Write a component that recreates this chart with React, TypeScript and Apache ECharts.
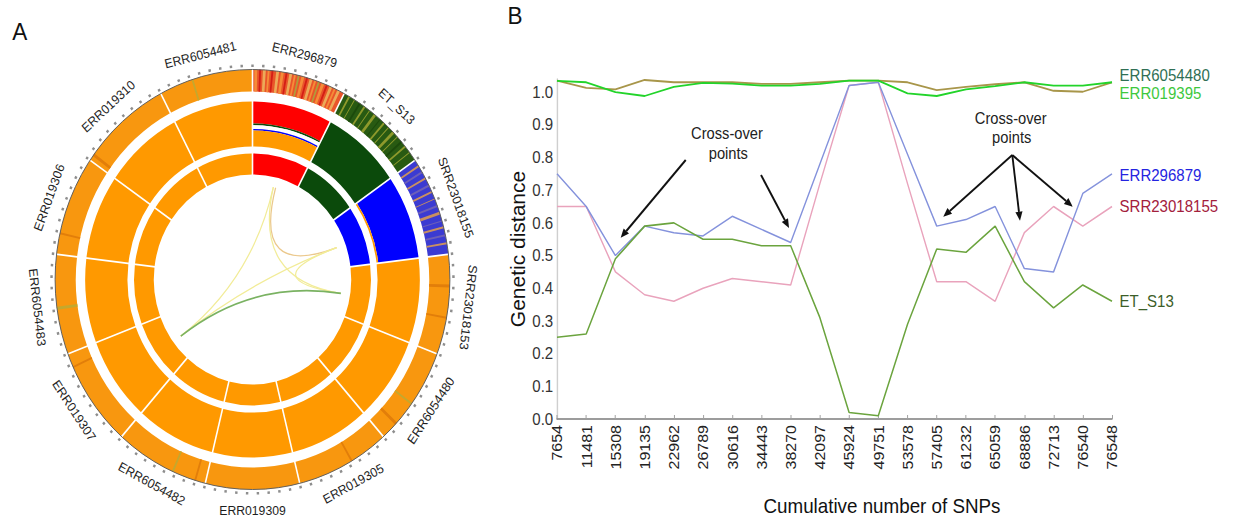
import React, { useEffect, useRef } from "react";
import * as echarts from "echarts";

// ---------------- Panel B data ----------------
const snpTicks = ["7654", "11481", "15308", "19135", "22962", "26789", "30616", "34443", "38270", "42097", "45924", "49751", "53578", "57405", "61232", "65059", "68886", "72713", "76540", "76548"];
const err6054480 = [1.035, 1.013, 1.008, 1.037, 1.03, 1.03, 1.03, 1.025, 1.025, 1.03, 1.035, 1.035, 1.03, 1.006, 1.016, 1.024, 1.03, 1.004, 1.001, 1.03];
const err019395 = [1.034, 1.03, 1.0, 0.988, 1.016, 1.028, 1.026, 1.02, 1.02, 1.025, 1.035, 1.035, 0.996, 0.988, 1.008, 1.018, 1.03, 1.02, 1.02, 1.03];
const err296879 = [0.75, 0.65, 0.5, 0.59, 0.57, 0.56, 0.62, 0.58, 0.54, 0.78, 1.02, 1.03, 0.81, 0.59, 0.61, 0.65, 0.46, 0.45, 0.69, 0.75];
const srr23018155 = [0.65, 0.65, 0.45, 0.38, 0.36, 0.4, 0.43, 0.42, 0.41, 0.72, 1.02, 1.03, 0.72, 0.42, 0.42, 0.36, 0.57, 0.65, 0.59, 0.65];
const etS13 = [0.25, 0.26, 0.49, 0.59, 0.6, 0.55, 0.55, 0.53, 0.53, 0.31, 0.02, 0.01, 0.29, 0.52, 0.51, 0.59, 0.42, 0.34, 0.41, 0.36];

// ---------------- Panel A data ----------------
const samples = ["ERR296879", "ET_S13", "SRR23018155", "SRR23018153", "ERR6054480", "ERR019305", "ERR019309", "ERR6054482", "ERR019307", "ERR6054483", "ERR019306", "ERR019310", "ERR6054481"];
const innerGroup = ["R", "G", "B", "O", "O", "O", "O", "O", "O", "O", "O", "O", "O"];
const middleStack: [string, number][][] = [
  [["R", 0.49], ["G", 0.035], ["W", 0.085], ["B", 0.035], ["O", 0.355]],
  [["G", 1]],
  [["B", 0.96], ["O", 0.04]],
  [["O", 1]], [["O", 1]], [["O", 1]], [["O", 1]], [["O", 1]], [["O", 1]], [["O", 1]], [["O", 1]], [["O", 1]], [["O", 1]],
];
const outerBase = ["r", "g", "b", "o", "o", "o", "o", "o", "o", "o", "o", "o", "o"];
// [sample, start fraction, end fraction, tone]
const outerStripes: [number, number, number, string][] = [
  [0, 0.02, 0.05, "org"], [0, 0.07, 0.09, "red"], [0, 0.11, 0.14, "tan"], [0, 0.16, 0.18, "org"], [0, 0.2, 0.22, "red"],
  [0, 0.25, 0.28, "tan"], [0, 0.3, 0.33, "org"], [0, 0.35, 0.37, "red"], [0, 0.39, 0.42, "tan"], [0, 0.44, 0.46, "org"],
  [0, 0.48, 0.5, "olv"], [0, 0.52, 0.55, "org"], [0, 0.57, 0.59, "red"], [0, 0.61, 0.64, "tan"], [0, 0.66, 0.68, "org"],
  [0, 0.7, 0.72, "olv"], [0, 0.74, 0.77, "org"], [0, 0.79, 0.81, "red"], [0, 0.83, 0.86, "tan"], [0, 0.88, 0.9, "org"], [0, 0.92, 0.95, "tan"],
  [1, 0.05, 0.07, "lime"], [1, 0.12, 0.13, "lime"], [1, 0.18, 0.2, "dkg"], [1, 0.24, 0.26, "lime"], [1, 0.31, 0.32, "lime"],
  [1, 0.37, 0.4, "lime"], [1, 0.45, 0.46, "dkg"], [1, 0.5, 0.52, "lime"], [1, 0.57, 0.58, "lime"], [1, 0.63, 0.66, "lime"],
  [1, 0.7, 0.71, "lime"], [1, 0.76, 0.78, "dkg"], [1, 0.82, 0.84, "lime"], [1, 0.9, 0.91, "lime"],
  [2, 0.06, 0.08, "sand"], [2, 0.13, 0.15, "vio"], [2, 0.2, 0.22, "sand"], [2, 0.28, 0.3, "vio"], [2, 0.35, 0.37, "sand"],
  [2, 0.43, 0.44, "sand"], [2, 0.5, 0.52, "vio"], [2, 0.57, 0.6, "sand"], [2, 0.66, 0.67, "vio"], [2, 0.72, 0.74, "sand"],
  [2, 0.8, 0.82, "vio"], [2, 0.88, 0.9, "sand"],
  [3, 0.3, 0.33, "dko"], [3, 0.62, 0.64, "dko"], [4, 0.55, 0.57, "yg"], [4, 0.8, 0.83, "dko"], [5, 0.4, 0.42, "dko"],
  [7, 0.1, 0.12, "dko"], [7, 0.35, 0.37, "yg"], [8, 0.85, 0.87, "dko"], [9, 0.45, 0.48, "yg"], [10, 0.2, 0.22, "dko"],
  [11, 0.05, 0.08, "dko"], [12, 0.35, 0.37, "yg"],
];
// [angle from, angle to, tone]
const links: [number, number, string][] = [
  [13.5, 233.4, "y"], [13.5, 98.4, "y"], [15, 70.4, "o"], [233.4, 70.4, "y"], [70.4, 98.4, "y"], [233.4, 98.4, "g"],
];

// ---------------- styles ----------------
const FONT = 'Arial, "Liberation Sans", Helvetica, sans-serif';
const S = 0.94;
const W = Math.round(1235 / S);
const H = 522;
const groupColor: Record<string, string> = { R: "#FF0000", G: "#0B4A0B", B: "#0000FF", O: "#FF9900", W: "#FFFFFF" };
const baseColor: Record<string, string> = { r: "#E9552A", g: "#285A12", b: "#3B3BD2", o: "#F8970F" };
const toneColor: Record<string, string> = {
  red: "#D41E16", org: "#F58C38", tan: "#ECAA58", olv: "#B09C3A", lime: "#8E9A2C", dkg: "#1C4A0C",
  sand: "#C99060", vio: "#6D5FB8", dko: "#E27E0A", yg: "#C4A82E",
};
const linkColor: Record<string, string> = { y: "#F2EC98", o: "#EBC88C", g: "#7AB262" };

type Sec = { a0: number; a1: number; r0: number; r1: number; color: string };

export default function App() {
  const ref = useRef<HTMLDivElement>(null);
  useEffect(() => {
    if (!ref.current) return;
    const chart = echarts.init(ref.current, undefined, { renderer: "svg", width: W, height: H });
    const cx = 252.5 / S;
    const cy = 279.5;
    const w = 360 / samples.length;
    const OUT = [188, 210], MID = [133, 178], INN = [105, 126];

    const secs: Sec[] = [];
    samples.forEach((_, i) => secs.push({ a0: i * w, a1: (i + 1) * w, r0: OUT[0], r1: OUT[1], color: baseColor[outerBase[i]] }));
    outerStripes.forEach(([i, f0, f1, t]) => secs.push({ a0: (i + f0) * w, a1: (i + f1) * w, r0: OUT[0], r1: OUT[1], color: toneColor[t] }));
    middleStack.forEach((stack, i) => {
      let r = MID[1];
      const th = MID[1] - MID[0];
      stack.forEach(([g, f]) => {
        const h = f * th;
        secs.push({ a0: i * w, a1: (i + 1) * w, r0: r - h, r1: r, color: groupColor[g] });
        r -= h;
      });
    });
    innerGroup.forEach((g, i) => secs.push({ a0: i * w, a1: (i + 1) * w, r0: INN[0], r1: INN[1], color: groupColor[g] }));

    const rad = (deg: number) => ((deg - 90) * Math.PI) / 180;
    const rpx = (api: any, cs: any, v: number) => cs.cy - api.coord([v, 0])[1];

    // arrows
    const arrows = [
      [729.5, 160, 660.3, 237.7], [809.6, 175, 839.4, 228],
      [1076.9, 155, 1003.5, 216.7], [1076.9, 155, 1085.1, 220.7], [1076.9, 155, 1141.2, 206.7],
    ];
    const arrowEls: any[] = [];
    arrows.forEach(([x1, y1, x2, y2]) => {
      const dx = x2 - x1, dy = y2 - y1;
      const L = Math.hypot(dx, dy);
      const ux = dx / L, uy = dy / L;
      const bx = x2 - ux * 9, by = y2 - uy * 9;
      arrowEls.push({ type: "line", shape: { x1, y1, x2: bx, y2: by }, style: { stroke: "#111", lineWidth: 2 } });
      arrowEls.push({
        type: "polygon",
        shape: { points: [[x2, y2], [bx - uy * 3.8, by + ux * 3.8], [bx + uy * 3.8, by - ux * 3.8]] },
        style: { fill: "#111" },
      });
    });
    const txt = (text: string, x: number, y: number) => ({
      type: "text", x, y, scaleX: 0.92,
      style: { text, font: `17px ${FONT}`, fill: "#222", align: "center", verticalAlign: "middle" },
    });

    const lineSeries = (name: string, data: number[], color: string, labelColor: string, width: number, offY: number) => ({
      type: "line", name, data, xAxisIndex: 0, yAxisIndex: 0, symbol: "none", smooth: false,
      lineStyle: { color, width },
      endLabel: { show: true, formatter: name, color: labelColor, fontSize: 16, fontFamily: FONT, distance: 8, offset: [0, offY] },
    });

    chart.setOption({
      animation: false,
      backgroundColor: "#ffffff",
      textStyle: { fontFamily: FONT },
      polar: [
        { center: [cx, cy], radius: [0, 210] },
        { center: [cx, cy], radius: [0, 212.5] },
      ],
      angleAxis: [
        { polarIndex: 0, type: "value", min: 0, max: 360, startAngle: 90, clockwise: true, axisLine: { show: false }, axisTick: { show: false }, axisLabel: { show: false }, splitLine: { show: false } },
        { polarIndex: 1, type: "value", min: 0, max: 360, interval: 360 / 117, startAngle: 90, clockwise: true, axisLine: { show: false }, axisTick: { show: true, length: 2.6, lineStyle: { color: "#8e8e8e", width: 2.6 } }, axisLabel: { show: false }, splitLine: { show: false } },
      ],
      radiusAxis: [
        { polarIndex: 0, type: "value", min: 0, max: 210, show: false },
        { polarIndex: 1, type: "value", min: 0, max: 212.5, show: false },
      ],
      grid: { left: 557 / S, top: 79, width: (1112 - 557) / S, height: 340 },
      xAxis: {
        type: "category", data: snpTicks, boundaryGap: false,
        axisLine: { show: true, lineStyle: { color: "#7c7c7c", width: 1.5 } },
        axisTick: { show: true, inside: true, length: 4, alignWithLabel: true, lineStyle: { color: "#a0a0a0" } },
        axisLabel: { rotate: 90, interval: 0, fontSize: 16, color: "#222", margin: 6, fontFamily: FONT },
        name: "Cumulative number of SNPs", nameLocation: "middle", nameGap: 77,
        nameTextStyle: { fontSize: 20, color: "#111", fontFamily: FONT, padding: [0, 0, 0, 101] },
      },
      yAxis: {
        type: "value", min: 0, max: 1.04, interval: 0.1,
        axisLine: { show: true, lineStyle: { color: "#cfcfcf", width: 1.5 } },
        axisTick: { show: false }, splitLine: { show: false },
        axisLabel: { fontSize: 16, color: "#333", margin: 4, fontFamily: FONT, formatter: (v: number) => (v > 1.001 ? "" : v.toFixed(1)) },
        name: "Genetic distance", nameLocation: "middle", nameGap: 31, nameRotate: 90,
        nameTextStyle: { fontSize: 21, color: "#111", fontFamily: FONT },
      },
      graphic: [
        { type: "text", x: 13, y: 20, style: { text: "A", font: `24px ${FONT}`, fill: "#111", verticalAlign: "top" } },
        { type: "text", x: 540, y: 4, style: { text: "B", font: `24px ${FONT}`, fill: "#111", verticalAlign: "top" } },
        txt("Cross-over", 773.4, 133), txt("points", 774.8, 153.3),
        txt("Cross-over", 1075.2, 118), txt("points", 1076.3, 137.5),
        ...arrowEls,
      ],
      series: [
        {
          type: "custom", coordinateSystem: "polar", polarIndex: 0, silent: true,
          data: secs.map((d) => [d.r1, d.a1]),
          renderItem: (params: any, api: any) => {
            const d = secs[params.dataIndex];
            const cs = params.coordSys;
            return {
              type: "sector",
              shape: { cx: cs.cx, cy: cs.cy, r0: rpx(api, cs, d.r0), r: rpx(api, cs, d.r1), startAngle: rad(d.a0), endAngle: rad(d.a1), clockwise: true },
              style: { fill: d.color },
            };
          },
        },
        {
          type: "custom", coordinateSystem: "polar", polarIndex: 0, silent: true,
          data: samples.map((_, i) => [211, i * w]),
          renderItem: (params: any, api: any) => {
            const a = params.dataIndex * w;
            const p0 = api.coord([100, a]);
            const p1 = api.coord([211, a]);
            return { type: "line", shape: { x1: p0[0], y1: p0[1], x2: p1[0], y2: p1[1] }, style: { stroke: "#ffffff", lineWidth: 1.7 } };
          },
        },
        {
          type: "custom", coordinateSystem: "polar", polarIndex: 0, silent: true,
          data: [[210, 0]],
          renderItem: (params: any, api: any) => {
            const cs = params.coordSys;
            return { type: "circle", shape: { cx: cs.cx, cy: cs.cy, r: rpx(api, cs, 210) }, style: { fill: "none", stroke: "#5e5e5e", lineWidth: 1 } };
          },
        },
        {
          type: "custom", coordinateSystem: "polar", polarIndex: 0, silent: true,
          data: samples.map((_, i) => [231, (i + 0.5) * w]),
          renderItem: (params: any, api: any) => {
            const th = (params.dataIndex + 0.5) * w;
            const p = api.coord([231, th]);
            const flip = th > 100 && th < 280;
            const rot = flip ? th - 180 : th;
            return {
              type: "text", x: p[0], y: p[1], rotation: (-rot * Math.PI) / 180,
              style: { text: samples[params.dataIndex], font: `13px ${FONT}`, fill: "#1e1e1e", align: "center", verticalAlign: "middle" },
            };
          },
        },
        {
          type: "custom", coordinateSystem: "polar", polarIndex: 0, silent: true,
          data: links.map((l) => [95, l[0]]),
          renderItem: (params: any, api: any) => {
            const [a, b, t] = links[params.dataIndex];
            const cs = params.coordSys;
            const p1 = api.coord([95, a]);
            const p2 = api.coord([95, b]);
            return {
              type: "bezierCurve",
              shape: { x1: p1[0], y1: p1[1], x2: p2[0], y2: p2[1], cpx1: cs.cx, cpy1: cs.cy },
              style: { stroke: linkColor[t], lineWidth: t === "g" ? 1.6 : 1.3, fill: "none" },
            };
          },
        },
        lineSeries("SRR23018155", srr23018155, "#E9A3BC", "#A3203C", 1.5, 0),
        lineSeries("ERR296879", err296879, "#8492DC", "#2424E0", 1.5, 2),
        lineSeries("ET_S13", etS13, "#6BA43E", "#3C5E28", 1.6, 0),
        lineSeries("ERR6054480", err6054480, "#A8964A", "#2F6F55", 1.8, -7),
        lineSeries("ERR019395", err019395, "#22D42A", "#3DC83D", 1.8, 11),
      ],
    });
    return () => chart.dispose();
  }, []);

  return (
    <div style={{ position: "absolute", left: 0, top: 0, width: 1235, height: H, overflow: "hidden", background: "#fff" }}>
      <div ref={ref} style={{ width: W, height: H, transform: `scaleX(${S})`, transformOrigin: "0 0" }} />
    </div>
  );
}
